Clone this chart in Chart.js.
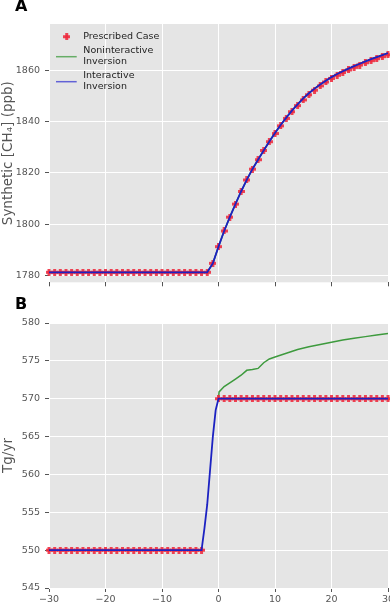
<!DOCTYPE html>
<html>
<head>
<meta charset="utf-8">
<script src="https://cdn.jsdelivr.net/npm/chart.js@4.4.1/dist/chart.umd.min.js"></script>
<style>
html, body { margin: 0; padding: 0; background: #fff; width: 390px; height: 613px; overflow: hidden; }
canvas { position: absolute; left: 0; }
#chartA { top: 0; }
#chartB { top: 293px; }
</style>
</head>
<body>
<canvas id="chartA" width="400" height="293"></canvas>
<canvas id="chartB" width="400" height="320"></canvas>
<script>
// years since the emission change
const years = [-30, -29, -28, -27, -26, -25, -24, -23, -22, -21, -20, -19, -18, -17, -16, -15,
  -14, -13, -12, -11, -10, -9, -8, -7, -6, -5, -4, -3, -2, -1, 0, 1, 2, 3, 4, 5, 6, 7, 8, 9,
  10, 11, 12, 13, 14, 15, 16, 17, 18, 19, 20, 21, 22, 23, 24, 25, 26, 27, 28, 29, 30];

// panel A: synthetic [CH4] (ppb)
const prescribedA = [1781.2, 1781.2, 1781.2, 1781.2, 1781.2, 1781.2, 1781.2, 1781.2, 1781.2, 1781.2,
  1781.2, 1781.2, 1781.2, 1781.2, 1781.2, 1781.2, 1781.2, 1781.2, 1781.2, 1781.2,
  1781.2, 1781.2, 1781.2, 1781.2, 1781.2, 1781.2, 1781.2, 1781.2, 1781.2,
  1784.7, 1791.2, 1797.3, 1802.7, 1807.8, 1812.7, 1817.2, 1821.4, 1825.1, 1828.7, 1832.1,
  1835.3, 1838.3, 1841.2, 1843.8, 1846.2, 1848.4, 1850.4, 1852.2, 1853.9, 1855.4,
  1856.8, 1858.0, 1859.1, 1860.1, 1861.1, 1862.0, 1862.9, 1863.7, 1864.5, 1865.3, 1866.0];
const interactiveA = [1781.2, 1781.2, 1781.2, 1781.2, 1781.2, 1781.2, 1781.2, 1781.2, 1781.2, 1781.2,
  1781.2, 1781.2, 1781.2, 1781.2, 1781.2, 1781.2, 1781.2, 1781.2, 1781.2, 1781.2,
  1781.2, 1781.2, 1781.2, 1781.2, 1781.2, 1781.2, 1781.2, 1781.2, 1781.2,
  1784.7, 1791.2, 1797.3, 1802.7, 1807.8, 1812.7, 1817.2, 1821.4, 1825.1, 1828.7, 1832.2,
  1835.5, 1838.6, 1841.5, 1844.2, 1846.7, 1849.0, 1851.0, 1852.8, 1854.4, 1855.9,
  1857.3, 1858.5, 1859.6, 1860.6, 1861.6, 1862.5, 1863.4, 1864.3, 1865.1, 1865.9, 1866.7];
const noninteractiveA = interactiveA.slice(); // sits under the interactive line

// panel B: emissions (Tg/yr)
const prescribedB = [550, 550, 550, 550, 550, 550, 550, 550, 550, 550, 550, 550, 550, 550, 550,
  550, 550, 550, 550, 550, 550, 550, 550, 550, 550, 550, 550, 550, null, null,
  570, 570, 570, 570, 570, 570, 570, 570, 570, 570, 570, 570, 570, 570, 570, 570,
  570, 570, 570, 570, 570, 570, 570, 570, 570, 570, 570, 570, 570, 570, 570];
const interactiveYearsB = [-30, -3, -2.5, -2, -1.5, -1, -0.5, 0, 30];
const interactiveB = [550, 550, 552.8, 556.0, 560.5, 565.0, 568.5, 570, 570];
const noninteractiveYearsB = [0, 0.1, 1, 2, 3, 4, 5, 6, 7, 8, 9, 10, 12, 14, 16, 18, 20, 22, 24, 26, 28, 30];
const noninteractiveB = [570.0, 570.9, 571.6, 572.1, 572.6, 573.1, 573.75, 573.85, 574.0, 574.75, 575.25,
  575.5, 576.0, 576.5, 576.85, 577.15, 577.45, 577.75, 578.0, 578.2, 578.4, 578.6];

// tick labels
const xTicks = [-30, -20, -10, 0, 10, 20, 30];
const xTickLabels = ['\u221230', '\u221220', '\u221210', '0', '10', '20', '30'];
const yTicksA = [1780, 1800, 1820, 1840, 1860];
const yTicksB = [545, 550, 555, 560, 565, 570, 575, 580];

const seriesLabels = ['Prescribed Case', 'Noninteractive\nInversion', 'Interactive\nInversion'];

const RED = 'rgba(238, 42, 62, 0.88)';
const GREEN = '#3d9a3d';
const BLUE = '#1c22c2';
const FONT = 'DejaVu Sans';
const TICK_GREY = '#555555';

function plusMarker(color) {
    const c = document.createElement('canvas');
    c.width = 7; c.height = 7;
    const g = c.getContext('2d');
    g.fillStyle = color;
    g.fillRect(2, 0, 3, 7);
    g.fillRect(0, 2, 7, 3);
    return c;
}
const marker = plusMarker(RED);

function pairs(xs, ys) {
    return xs.map((x, i) => ({ x: x, y: ys[i] }));
}

const greyBg = {
    id: 'greyBg',
    beforeDraw(chart) {
        const a = chart.chartArea, ctx = chart.ctx;
        ctx.save();
        ctx.fillStyle = '#e5e5e5';
        ctx.fillRect(a.left, a.top, a.right - a.left, a.bottom - a.top);
        ctx.restore();
    }
};

const panelTag = {
    id: 'panelTag',
    afterDraw(chart, args, opts) {
        const ctx = chart.ctx;
        ctx.save();
        ctx.font = 'bold 16px "' + FONT + '"';
        ctx.fillStyle = '#000';
        ctx.textBaseline = 'alphabetic';
        ctx.fillText(opts.text, opts.x, opts.y);
        ctx.restore();
    }
};

// legend drawn inside the plot area of panel A
const innerLegend = {
    id: 'innerLegend',
    afterDraw(chart) {
        const ctx = chart.ctx, a = chart.chartArea;
        const L = a.left, T = a.top;
        ctx.save();
        ctx.font = '9.5px "' + FONT + '"';
        ctx.fillStyle = '#222';
        ctx.textBaseline = 'middle';
        ctx.drawImage(marker, L + 14.2, T + 9.2);
        ctx.fillText(seriesLabels[0], L + 34.3, T + 12.7);

        ctx.lineWidth = 1.5;
        ctx.strokeStyle = '#66ad66';
        ctx.beginPath(); ctx.moveTo(L + 7, T + 32.7); ctx.lineTo(L + 27.7, T + 32.7); ctx.stroke();
        const g = seriesLabels[1].split('\n');
        ctx.fillText(g[0], L + 34.3, T + 27);
        ctx.fillText(g[1], L + 34.3, T + 37.7);

        ctx.strokeStyle = '#6262d6';
        ctx.beginPath(); ctx.moveTo(L + 7, T + 57.7); ctx.lineTo(L + 27.7, T + 57.7); ctx.stroke();
        const b = seriesLabels[2].split('\n');
        ctx.fillText(b[0], L + 34.3, T + 52);
        ctx.fillText(b[1], L + 34.3, T + 62.7);
        ctx.restore();
    }
};

function xScale(showLabels, height) {
    return {
        type: 'linear',
        min: -30,
        max: 30,
        afterBuildTicks: s => { s.ticks = xTicks.map(v => ({ value: v })); },
        afterFit: s => { s.height = height; },
        ticks: {
            display: showLabels,
            padding: 2,
            color: TICK_GREY,
            font: { family: FONT, size: 9.5 },
            callback: (v) => xTickLabels[xTicks.indexOf(v)]
        },
        grid: { color: '#ffffff', lineWidth: 1, tickColor: TICK_GREY, tickLength: 4 },
        border: { display: false }
    };
}

function yScale(min, max, tickVals, title) {
    return {
        type: 'linear',
        min: min,
        max: max,
        afterBuildTicks: s => { s.ticks = tickVals.map(v => ({ value: v })); },
        afterFit: s => { s.width = 49; },
        ticks: {
            padding: 5,
            color: TICK_GREY,
            font: { family: FONT, size: 9.5 },
            callback: (v) => String(v)
        },
        grid: { color: '#ffffff', lineWidth: 1, tickColor: TICK_GREY, tickLength: 4 },
        border: { display: false },
        title: {
            display: true,
            text: title,
            color: TICK_GREY,
            font: { family: FONT, size: 13.5 },
            padding: { top: 0, bottom: 0 }
        }
    };
}

const common = {
    responsive: false,
    animation: false,
    devicePixelRatio: 1,
    parsing: false
};

new Chart(document.getElementById('chartA'), {
    type: 'line',
    data: {
        datasets: [
            {
                label: seriesLabels[2],
                data: pairs(years, interactiveA),
                borderColor: BLUE, borderWidth: 1.8, pointRadius: 0, order: 0
            },
            {
                label: seriesLabels[0],
                data: pairs(years, prescribedA),
                showLine: false, pointStyle: marker, pointRadius: 3.5, clip: false, order: 1
            },
            {
                label: seriesLabels[1],
                data: pairs(years, noninteractiveA),
                borderColor: GREEN, borderWidth: 1.5, pointRadius: 0, order: 2
            }
        ]
    },
    options: Object.assign({}, common, {
        layout: { padding: { top: 24, right: 12, bottom: 2, left: 0 } },
        scales: {
            x: xScale(false, 4),
            y: yScale(1777.3, 1878, yTicksA, 'Synthetic [CH\u2084] (ppb)')
        },
        plugins: {
            legend: { display: false },
            tooltip: { enabled: false },
            panelTag: { text: 'A', x: 15, y: 11 }
        }
    }),
    plugins: [greyBg, panelTag, innerLegend]
});

new Chart(document.getElementById('chartB'), {
    type: 'line',
    data: {
        datasets: [
            {
                label: seriesLabels[2],
                data: pairs(interactiveYearsB, interactiveB),
                borderColor: BLUE, borderWidth: 1.8, pointRadius: 0, order: 0
            },
            {
                label: seriesLabels[0],
                data: pairs(years, prescribedB),
                showLine: false, pointStyle: marker, pointRadius: 3.5, clip: false, order: 1
            },
            {
                label: seriesLabels[1],
                data: pairs(noninteractiveYearsB, noninteractiveB),
                borderColor: GREEN, borderWidth: 1.5, pointRadius: 0, order: 2
            }
        ]
    },
    options: Object.assign({}, common, {
        layout: { padding: { top: 30, right: 12, bottom: 5, left: 0 } },
        scales: {
            x: xScale(true, 20),
            y: yScale(545, 580, yTicksB, 'Tg/yr')
        },
        plugins: {
            legend: { display: false },
            tooltip: { enabled: false },
            panelTag: { text: 'B', x: 15, y: 16 }
        }
    }),
    plugins: [greyBg, panelTag]
});
</script>
</body>
</html>
